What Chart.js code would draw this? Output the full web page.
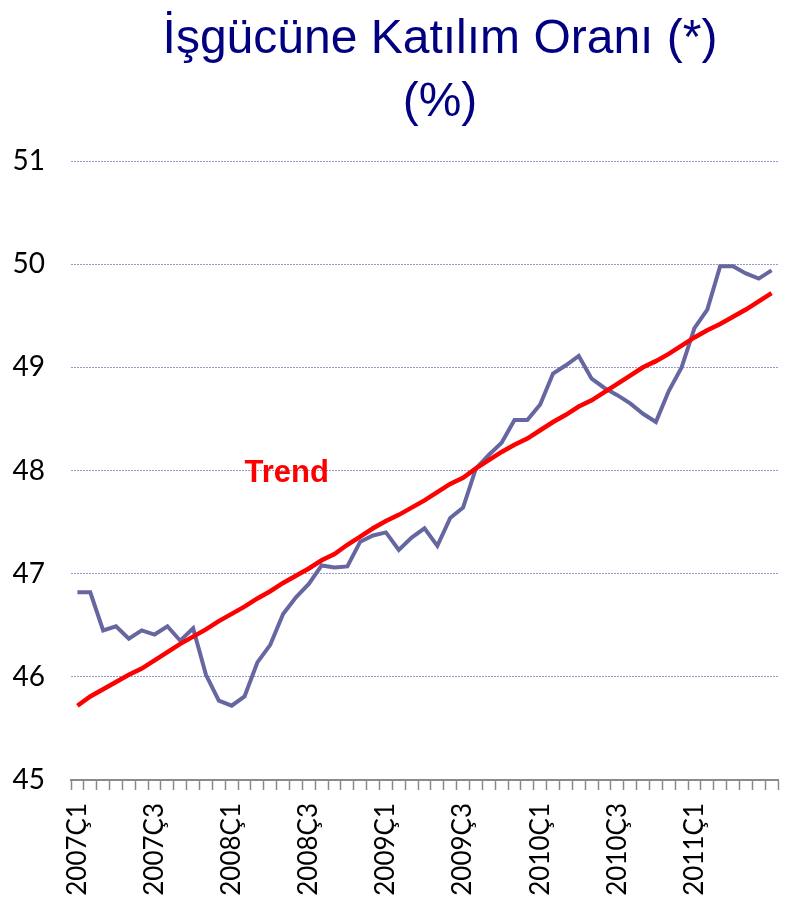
<!DOCTYPE html>
<html>
<head>
<meta charset="utf-8">
<script src="https://cdn.jsdelivr.net/npm/chart.js@4/dist/chart.umd.min.js"></script>
<style>
  body { margin: 0; background: #fff; }
  #grafik { display: block; }
</style>
</head>
<body>
<canvas id="grafik" width="786" height="906"></canvas>
<script>
// aylik veriler, 2007 Ocak - 2011 Temmuz
const etiketler = [
  '2007Ç1', '', '', '', '', '', '2007Ç3', '', '', '', '', '',
  '2008Ç1', '', '', '', '', '', '2008Ç3', '', '', '', '', '',
  '2009Ç1', '', '', '', '', '', '2009Ç3', '', '', '', '', '',
  '2010Ç1', '', '', '', '', '', '2010Ç3', '', '', '', '', '',
  '2011Ç1', '', '', '', '', '', ''
];

const katilim = [
  46.82, 46.82, 46.45, 46.49, 46.37, 46.45, 46.41, 46.49, 46.35, 46.47, 46.02, 45.77,
  45.72, 45.81, 46.14, 46.31, 46.61, 46.77, 46.90, 47.08, 47.06, 47.07, 47.31, 47.37,
  47.40, 47.23, 47.35, 47.44, 47.27, 47.54, 47.64, 48.02, 48.15, 48.27, 48.49, 48.49,
  48.64, 48.94, 49.02, 49.11, 48.89, 48.80, 48.73, 48.65, 48.55, 48.47, 48.77, 49.00,
  49.38, 49.56, 49.98, 49.98, 49.91, 49.86, 49.94
];

const trend = [
  45.72, 45.81, 45.88, 45.95, 46.02, 46.08, 46.16, 46.24, 46.32, 46.39, 46.46, 46.54,
  46.61, 46.68, 46.76, 46.83, 46.91, 46.98, 47.05, 47.13, 47.19, 47.28, 47.36, 47.44,
  47.51, 47.57, 47.64, 47.71, 47.79, 47.87, 47.93, 48.02, 48.10, 48.18, 48.25, 48.31,
  48.39, 48.47, 48.54, 48.62, 48.68, 48.76, 48.84, 48.92, 49.00, 49.06, 49.13, 49.21,
  49.29, 49.36, 49.42, 49.49, 49.56, 49.64, 49.72
];

const baslik = ['İşgücüne Katılım Oranı (*)', '(%)'];

// baslik ve "Trend" yazisi
const yazilar = {
  id: 'yazilar',
  afterDraw(chart) {
    const c = chart.ctx;
    c.save();
    c.fillStyle = '#000080';
    c.font = '48px "Liberation Sans", Arial, sans-serif';
    c.textAlign = 'center';
    c.textBaseline = 'alphabetic';
    c.fillText(baslik[0], 440, 53);
    c.fillText(baslik[1], 440, 116);

    const x = chart.scales.x.getPixelForValue(13);
    const y = chart.scales.y.getPixelForValue(48);
    c.fillStyle = '#ff0000';
    c.font = 'bold 31px "Liberation Sans", Arial, sans-serif';
    c.textAlign = 'left';
    c.fillText('Trend', x, y + 11);
    c.restore();
  }
};

const ctx = document.getElementById('grafik').getContext('2d');
const grafik = new Chart(ctx, {
  type: 'line',
  data: {
    labels: etiketler,
    datasets: [{
      label: 'Trend',
      data: trend,
      borderColor: '#ff0000',
      borderWidth: 4.5,
      pointRadius: 0,
      tension: 0,
      order: 0
    }, {
      label: 'İşgücüne Katılım Oranı',
      data: katilim,
      borderColor: '#6667a0',
      borderWidth: 4,
      pointRadius: 0,
      tension: 0,
      order: 1
    }]
  },
  options: {
    responsive: false,
    animation: false,
    layout: { padding: { top: 161, right: 8, left: 0, bottom: 0 } },
    plugins: {
      legend: { display: false },
      tooltip: { enabled: false }
    },
    scales: {
      x: {
        offset: true,
        afterFit(s) {
          s.height = 126;
          s.paddingLeft = 0;
          s.paddingRight = 0;
        },
        grid: {
          offset: true,
          drawOnChartArea: false,
          tickLength: 10,
          tickColor: '#8a8a8a',
          tickWidth: 1.5
        },
        border: { color: '#8a8a8a', width: 2 },
        ticks: {
          autoSkip: false,
          minRotation: 90,
          maxRotation: 90,
          padding: 13,
          color: '#000',
          font: { family: 'Lato', size: 26 }
        }
      },
      y: {
        min: 45,
        max: 51,
        afterFit(s) {
          s.width = 71;
          s.paddingTop = 0;
          s.paddingBottom = 0;
        },
        grid: {
          color: '#9a9ac8',
          lineWidth: 1,
          drawTicks: false
        },
        border: { display: false, dash: [2, 1] },
        ticks: {
          stepSize: 1,
          padding: 26,
          color: '#000',
          font: { family: 'Lato', size: 28 }
        }
      }
    }
  },
  plugins: [yazilar]
});
</script>
</body>
</html>
